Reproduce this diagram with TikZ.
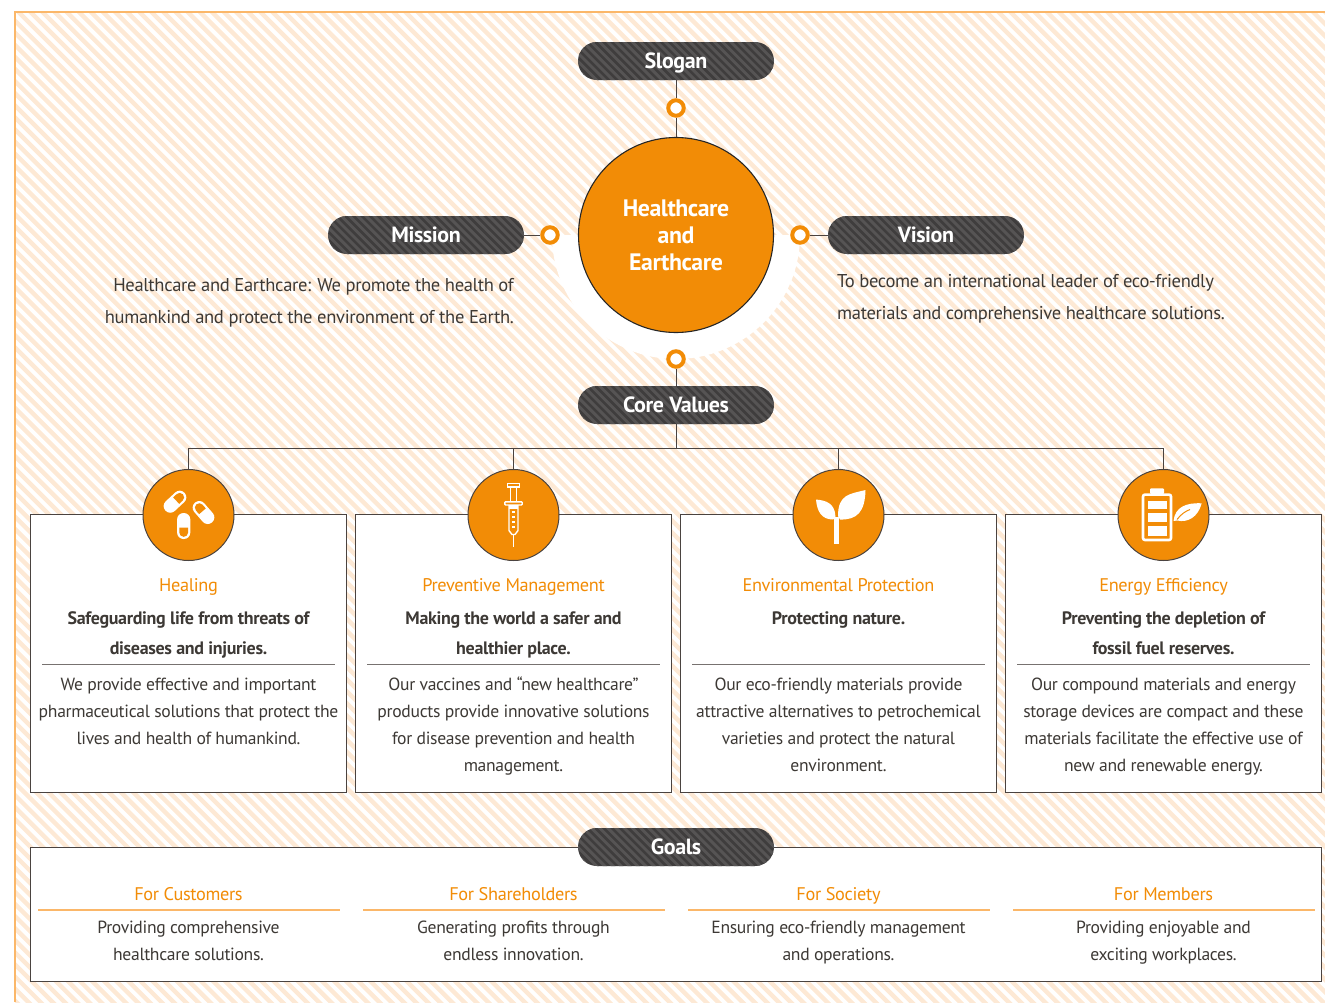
\documentclass[tikz,border=0pt]{standalone}
\usepackage{fontspec}
\setmainfont[LetterSpace=-1.8]{PT Sans}
\definecolor{orangeM}{HTML}{F28C06}
\definecolor{frameC}{HTML}{FBB769}
\definecolor{hatchC}{HTML}{FDE9D5}
\definecolor{inkC}{HTML}{3D3935}
\definecolor{lineC}{HTML}{4A4340}
\definecolor{pillA}{HTML}{3F3D3D}
\definecolor{pillB}{HTML}{565454}
\tikzset{
  x=1pt,y=-1pt,
  pill/.style={rectangle,rounded corners=19pt,minimum width=196pt,minimum height=38pt,inner sep=0pt,fill=pillA,text=white,
    font=\fontsize{22}{24}\selectfont\bfseries,text height=15pt,text depth=4pt,
    path picture={\foreach \i in {-17,...,17}{\draw[pillB,line width=2.9pt] ([xshift=\i*8.2pt]path picture bounding box.center) ++(-30,-30) -- ++(60,60);}}},
  ring/.style={circle,draw=orangeM,line width=4pt,fill=white,minimum size=15.5pt,inner sep=0pt},
  conn/.style={draw=lineC,line width=1pt},
  card/.style={rectangle,draw=lineC,fill=white,line width=1.1pt,inner sep=0pt,anchor=north west},
  iconc/.style={circle,draw=lineC,fill=orangeM,line width=1pt,minimum size=91pt,inner sep=0pt},
  hub/.style={circle,draw=black!85,fill=orangeM,line width=1.1pt,minimum size=195pt,inner sep=0pt},
  strutted/.style={execute at begin node=\strut,execute at end node=\strut},
  huT/.style={strutted,text=white,align=center,font=\fontsize{23.8}{27}\selectfont\bfseries,inner sep=0pt},
  ttl/.style={text=orangeM,font=\fontsize{18.3}{22}\selectfont,inner sep=0pt,strutted},
  bld/.style={strutted,text=inkC,align=center,font=\fontsize{18}{30}\selectfont\bfseries,inner sep=0pt},
  bdy/.style={strutted,text=inkC,align=center,font=\fontsize{17.6}{27}\selectfont,inner sep=0pt},
  lead/.style={strutted,text=inkC,font=\fontsize{18.55}{32}\selectfont,inner sep=0pt},
  sepG/.style={draw=lineC!75,line width=1pt},
  sepO/.style={draw=frameC,line width=1.1pt}
}
\newcommand{\capsuleIcon}[3]{%
  \begin{scope}[shift={(#1,#2)},rotate=#3]
    \fill[white,rounded corners=6.4pt] (-6.6,-13) rectangle (6.6,13);
    \fill[orangeM,rounded corners=0pt] (-4.4,1.6) -- (4.4,1.6) [rounded corners=4.3pt] -- (4.4,10.8) -- (-4.4,10.8) [rounded corners=0pt] -- cycle;
  \end{scope}}
\begin{document}
\begin{tikzpicture}
\useasboundingbox (0,0) rectangle (1325,1002);
% hatched field
\begin{scope}
  \clip (15,12) rectangle (1325,1002);
  \foreach \i in {0,...,195}{\draw[hatchC,line width=4.4pt] ({-1010+\i*12.1},0) -- ++(1010,1010);}
\end{scope}
\draw[frameC,line width=1.6pt] (15,1002) -- (15,12) -- (1325,12);
% white halo
\fill[white] (552,235) arc[start angle=180,end angle=0,radius=124] -- cycle;

% junction and boxes
\coordinate (jc) at (676,448);
\node[card,minimum width=316pt,minimum height=278pt] (boxA) at (30,514) {};
\node[card,minimum width=316pt,minimum height=278pt] (boxB) at (355,514) {};
\node[card,minimum width=316pt,minimum height=278pt] (boxC) at (680,514) {};
\node[card,minimum width=316pt,minimum height=278pt] (boxD) at (1005,514) {};
\node[card,minimum width=1291pt,minimum height=134pt] (boxG) at (30,847) {};

% main nodes
\node[pill] (slogan) at (676,61) {\raisebox{-2pt}{Slogan}};
\node[pill] (mission) at (426,235) {\raisebox{-2pt}{Mission}};
\node[pill] (vision) at (926,235) {\raisebox{-2pt}{Vision}};
\node[pill] (core) at (676,405) {\raisebox{-2pt}{Core Values}};
\node[pill] (goals) at (676,847) {\raisebox{-2pt}{Goals}};
\node[hub] (hub) at (676,235) {};
\node[huT] (hubT) at (676,239) {Healthcare\\and\\Earthcare};
\node[ring] (rS) at (676,108) {};
\node[ring] (rM) at (550,235) {};
\node[ring] (rV) at (800,235) {};
\node[ring] (rC) at (676,359) {};
\node[iconc] (iconA) at (188.5,515) {};
\node[iconc] (iconB) at (513.5,515) {};
\node[iconc] (iconC) at (838.5,515) {};
\node[iconc] (iconD) at (1163.5,515) {};

% connectors
\draw[conn] (slogan) -- (rS);
\draw[conn] (rS) -- (hub);
\draw[conn] (mission) -- (rM);
\draw[conn] (rV) -- (vision);
\draw[conn] (rC) -- (core);
\draw[conn] (core) -- (jc);
\draw[conn] (jc) -| (iconA);
\draw[conn] (jc) -| (iconB);
\draw[conn] (jc) -| (iconC);
\draw[conn] (jc) -| (iconD);

% lead texts
\node[lead,align=right,anchor=east] (mT) at (514,306) {Healthcare and Earthcare: We promote the health of\\humankind and protect the environment of the Earth.};
\node[lead,align=left,anchor=west] (vT) at (837,302) {To become an international leader of eco-friendly\\materials and comprehensive healthcare solutions.};

% icons: pills
\capsuleIcon{175}{501.7}{-227}
\capsuleIcon{203.5}{512.5}{-139}
\capsuleIcon{183.7}{526}{0}

% icon: syringe
\begin{scope}[white,line width=1.4pt]
  \draw (507.5,483.5) rectangle (519.5,487);
  \draw (510.3,487) -- (510.3,501.5) (516.7,487) -- (516.7,501.5);
  \draw[rounded corners=0.8pt] (504.8,501.8) rectangle (522.2,505);
  \draw (509,505) -- (509,530.5) -- (512,534.5) -- (515,534.5) -- (518,530.5) -- (518,505);
  \fill (509,505) rectangle (518,509);
  \fill (512.4,511) rectangle (514.6,513.2);
  \fill (512.4,516) rectangle (514.6,518.2);
  \fill (512.4,521) rectangle (514.6,523.2);
  \fill (512.4,526) rectangle (514.6,528.2);
  \draw[line width=1.3pt] (513.5,534.5) -- (513.5,547);
\end{scope}

% icon: sprout
\fill[white] (816,499.5) .. controls (826,500.5) and (835,503) .. (835.5,517) -- (833,519.5) .. controls (822,519.5) and (817,512) .. (816,499.5) -- cycle;
\fill[white] (865.5,490) .. controls (850,494) and (838,494) .. (838,516) -- (840,519.5) .. controls (857,520) and (865,512) .. (865.5,490) -- cycle;
\fill[white] (834.4,517) rectangle (838.6,543.5);

% icon: battery
\draw[white,line width=2.6pt,rounded corners=2pt] (1143,494.6) rectangle (1171,540);
\fill[white,rounded corners=1pt] (1150,488.3) rectangle (1164,494);
\fill[white] (1147.7,500.7) rectangle (1166.7,509);
\fill[white] (1147.7,512.7) rectangle (1166.7,521.7);
\fill[white] (1147.7,525.7) rectangle (1166.7,536);
\fill[white] (1173.5,521) .. controls (1175,507) and (1186,502.5) .. (1201.7,503.3) .. controls (1198,517) and (1188,523) .. (1177,520.5) -- cycle;
\draw[orangeM,line width=1pt] (1177,519.5) .. controls (1181,514) and (1186,511) .. (1190,509.5);

% cards
\node[ttl] (tA) at (188.5,587) {Healing};
\node[ttl] (tB) at (513.5,587) {Preventive Management};
\node[ttl] (tC) at (838.5,587) {Environmental Protection};
\node[ttl] (tD) at (1163.5,587) {Energy Efficiency};
\node[bld] (sA) at (188.5,638) {Safeguarding life from threats of\\diseases and injuries.};
\node[bld] (sB) at (513.5,638) {Making the world a safer and\\healthier place.};
\node[bld] (sC) at (838.5,618) {Protecting nature.};
\node[bld] (sD) at (1163.5,638) {Preventing the depletion of\\fossil fuel reserves.};
\coordinate (lA1) at (42,664); \coordinate (lA2) at (335,664);
\coordinate (lB1) at (367,664); \coordinate (lB2) at (660,664);
\coordinate (lC1) at (692,664); \coordinate (lC2) at (985,664);
\coordinate (lD1) at (1017,664); \coordinate (lD2) at (1310,664);
\draw[sepG] (lA1) -- (lA2);
\draw[sepG] (lB1) -- (lB2);
\draw[sepG] (lC1) -- (lC2);
\draw[sepG] (lD1) -- (lD2);
\node[bdy] (bA) at (188.5,715) {We provide effective and important\\pharmaceutical solutions that protect the\\lives and health of humankind.};
\node[bdy] (bB) at (513.5,728) {Our vaccines and “new healthcare”\\products provide innovative solutions\\for disease prevention and health\\management.};
\node[bdy] (bC) at (838.5,728.5) {Our eco-friendly materials provide\\attractive alternatives to petrochemical\\varieties and protect the natural\\environment.};
\node[bdy] (bD) at (1163.5,728.5) {Our compound materials and energy\\storage devices are compact and these\\materials facilitate the effective use of\\new and renewable energy.};

% goals
\node[ttl] (gA) at (188.5,896) {For Customers};
\node[ttl] (gB) at (513.5,896) {For Shareholders};
\node[ttl] (gC) at (838.5,896) {For Society};
\node[ttl] (gD) at (1163.5,896) {For Members};
\coordinate (oA1) at (38,910); \coordinate (oA2) at (340,910);
\coordinate (oB1) at (363,910); \coordinate (oB2) at (665,910);
\coordinate (oC1) at (688,910); \coordinate (oC2) at (990,910);
\coordinate (oD1) at (1013,910); \coordinate (oD2) at (1315,910);
\draw[sepO] (oA1) -- (oA2);
\draw[sepO] (oB1) -- (oB2);
\draw[sepO] (oC1) -- (oC2);
\draw[sepO] (oD1) -- (oD2);
\node[bdy] (dA) at (188.5,945) {Providing comprehensive\\healthcare solutions.};
\node[bdy] (dB) at (513.5,945) {Generating profits through\\endless innovation.};
\node[bdy] (dC) at (838.5,945) {Ensuring eco-friendly management\\and operations.};
\node[bdy] (dD) at (1163.5,945) {Providing enjoyable and\\exciting workplaces.};
\end{tikzpicture}
\end{document}
